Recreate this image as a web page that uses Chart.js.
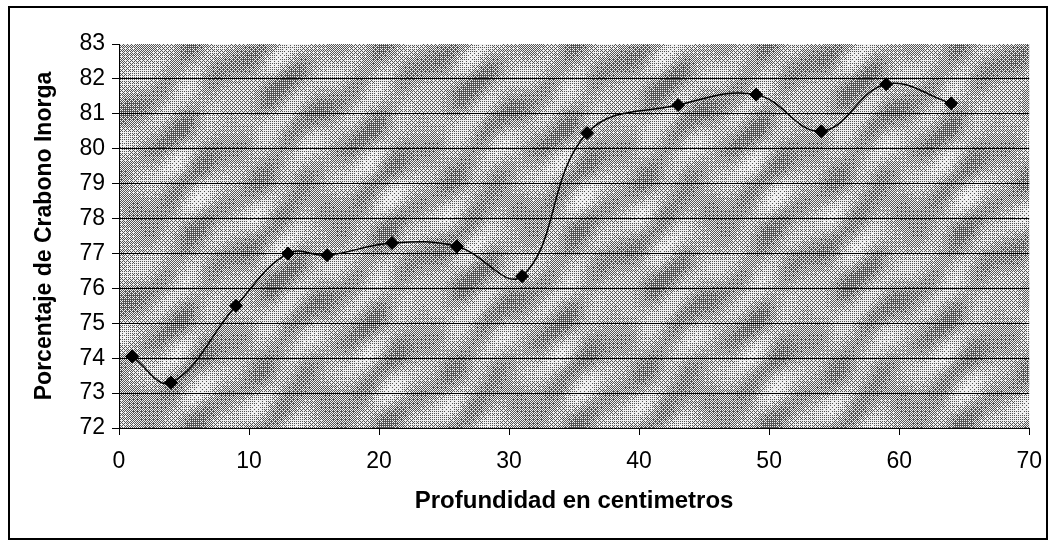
<!DOCTYPE html>
<html>
<head>
<meta charset="utf-8">
<script src="https://cdn.jsdelivr.net/npm/chart.js@4/dist/chart.umd.min.js"></script>
<style>
  html, body { margin: 0; padding: 0; background: #ffffff; }
  #wrap { position: relative; width: 1055px; height: 541px; }
</style>
</head>
<body>
<div id="wrap"><canvas id="c" width="1055" height="541"></canvas></div>
<script>
// Data
const depthCm = [1, 4, 9, 13, 16, 21, 26, 31, 36, 43, 49, 54, 59, 64];
const carbonPct = [74.05, 73.3, 75.5, 77.0, 76.95, 77.3, 77.2, 76.35, 80.45, 81.25, 81.55, 80.5, 81.85, 81.3];
const xTickValues = [0, 10, 20, 30, 40, 50, 60, 70];
const yTickValues = [72, 73, 74, 75, 76, 77, 78, 79, 80, 81, 82, 83];
const xTitle = 'Profundidad en centimetros';
const yTitle = 'Porcentaje de Crabono Inorga';

// Deterministic halftone-like texture for the plot area
function makeTexture(ctx) {
  const w = 192, h = 192;
  const t = document.createElement('canvas');
  t.width = w; t.height = h;
  const tc = t.getContext('2d');
  const img = tc.createImageData(w, h);
  const bayer = [[0, 8, 2, 10], [12, 4, 14, 6], [3, 11, 1, 9], [15, 7, 13, 5]];
  const TAU = 2 * Math.PI;
  for (let y = 0; y < h; y++) {
    for (let x = 0; x < w; x++) {
      const a = Math.sin((x + y) * TAU / 64);
      const b = Math.sin((x * 2 - y) * TAU / 96 + 0.7);
      const c = Math.sin((x - y * 2) * TAU / 192 + 1.3);
      const d = Math.sin((x * 3 + y) * TAU / 192 + 2.1) * Math.sin((y * 3 - x) * TAU / 192);
      const e = Math.sin((x * 5 + y * 3) * TAU / 192 + 0.4);
      let v = 0.55 + 0.14 * a + 0.1 * b + 0.08 * c + 0.14 * d + 0.06 * e;
      const th = (bayer[y % 4][x % 4] + 0.5) / 16;
      const on = v > th;
      const col = on ? 240 : 85;
      const i = (y * w + x) * 4;
      img.data[i] = col; img.data[i + 1] = col; img.data[i + 2] = col; img.data[i + 3] = 255;
    }
  }
  tc.putImageData(img, 0, 0);
  return ctx.createPattern(t, 'repeat');
}

const bgPlugin = {
  id: 'bg',
  beforeDraw(chart) {
    const { ctx, chartArea: a } = chart;
    ctx.save();
    ctx.fillStyle = '#ffffff';
    ctx.fillRect(0, 0, chart.width, chart.height);
    ctx.fillStyle = makeTexture(ctx);
    ctx.fillRect(a.left, a.top, a.right - a.left, a.bottom - a.top);
    ctx.restore();
  },
  afterDraw(chart) {
    const { ctx } = chart;
    ctx.save();
    ctx.strokeStyle = '#000000';
    ctx.lineWidth = 2;
    ctx.strokeRect(9, 7, 1038, 532);
    ctx.restore();
  }
};

const font = 'Liberation Sans, Arial, sans-serif';

new Chart(document.getElementById('c'), {
  type: 'scatter',
  data: {
    datasets: [{
      data: depthCm.map((x, i) => ({ x: x, y: carbonPct[i] })),
      showLine: true,
      tension: 0.4,
      borderColor: '#000000',
      borderWidth: 1.5,
      pointStyle: 'rectRot',
      pointRadius: 6.5,
      pointHoverRadius: 6.5,
      pointBackgroundColor: '#000000',
      pointBorderColor: '#000000',
      pointBorderWidth: 1
    }]
  },
  options: {
    responsive: false,
    animation: false,
    events: [],
    layout: { padding: { left: 20, right: 21, top: 44, bottom: 10 } },
    plugins: { legend: { display: false }, tooltip: { enabled: false } },
    scales: {
      x: {
        type: 'linear',
        min: 0, max: 70,
        afterBuildTicks: s => { s.ticks = xTickValues.map(v => ({ value: v })); },
        afterFit: s => { s.height = 103; },
        ticks: { color: '#000000', font: { family: font, size: 23 }, padding: 13, maxRotation: 0 },
        grid: { drawOnChartArea: false, drawTicks: true, tickLength: 7, color: '#000000', tickColor: '#000000' },
        border: { display: true, color: '#000000', width: 1 },
        title: { display: true, text: xTitle, color: '#000000', font: { family: font, size: 24, weight: 'bold' }, padding: { top: 0, bottom: 15 } }
      },
      y: {
        type: 'linear',
        min: 72, max: 83,
        afterBuildTicks: s => { s.ticks = yTickValues.map(v => ({ value: v })); },
        afterFit: s => { s.width = 99; },
        ticks: { color: '#000000', font: { family: font, size: 23 }, padding: 7 },
        grid: {
          drawTicks: true, tickLength: 7,
          color: ctx => (ctx.tick && ctx.tick.value === 83) ? 'rgba(0,0,0,0)' : '#000000',
          tickColor: '#000000', lineWidth: 1
        },
        border: { display: true, color: '#000000', width: 1 },
        title: { display: true, text: yTitle, color: '#000000', font: { family: font, size: 23, weight: 'bold' }, padding: { top: 11, bottom: 0 } }
      }
    }
  },
  plugins: [bgPlugin]
});
</script>
</body>
</html>
